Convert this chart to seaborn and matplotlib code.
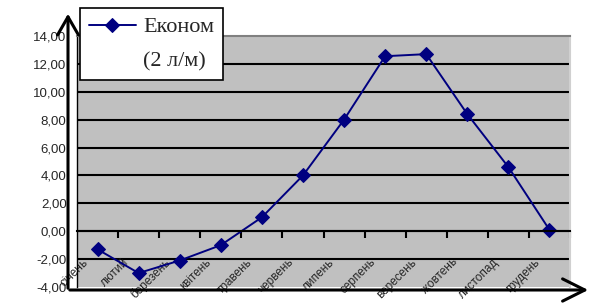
import matplotlib
matplotlib.use("Agg")
import matplotlib.pyplot as plt
import matplotlib.transforms as mtransforms
from matplotlib.lines import Line2D
from matplotlib.ticker import FixedLocator, FuncFormatter
import seaborn as sns
import pandas as pd

months = ["січень", "лютий", "березень", "квітень", "травень", "червень",
          "липень", "серпень", "вересень", "жовтень", "листопад", "грудень"]
values = [-1.3, -3.0, -2.1, -1.0, 1.0, 4.0, 8.0, 12.55, 12.7, 8.4, 4.6, 0.1]
legend_lines = ["Економ", "(2 л/м)"]
y_ticks = [-4, -2, 0, 2, 4, 6, 8, 10, 12, 14]

df = pd.DataFrame({"month": months, "value": values, "pos": range(len(months))})

sns.set_style("white")
plt.rcParams["font.family"] = ["Liberation Sans", "DejaVu Sans"]

fig = plt.figure(figsize=(5.94, 3.03), dpi=100)
ax = fig.add_axes([77 / 594, 1 - 287 / 303, (570 - 77) / 594, (287 - 36) / 303])
ax.set_facecolor("#C0C0C0")

sns.lineplot(data=df, x="pos", y="value", ax=ax, color="#000080", lw=1.4,
             marker="D", markersize=7, markeredgecolor="#000080", legend=False)
series_line = ax.get_lines()[0]

ax.set_xlim(-0.5, len(months) - 0.5)
ax.set_ylim(-4, 14)
ax.set_xlabel("")
ax.set_ylabel("")

for t in y_ticks[1:-1]:
    ax.axhline(t, color="black", lw=1.5, zorder=0.5)

ax.set_yticks(y_ticks)
ax.yaxis.set_major_formatter(FuncFormatter(lambda v, p: f"{v:.2f}".replace(".", ",")))
ax.tick_params(axis="y", length=0, pad=7.5, labelsize=9.5)

ax.spines["bottom"].set_position(("data", 0))
ax.spines["bottom"].set_color("black")
ax.spines["bottom"].set_linewidth(1.5)
ax.spines["left"].set_color("black")
ax.spines["left"].set_linewidth(1.0)
ax.spines["top"].set_color("#808080")
ax.spines["top"].set_linewidth(1.5)
ax.spines["right"].set_color("#D0D0D0")
ax.spines["right"].set_linewidth(1.5)

ax.set_xticks(range(len(months)))
ax.set_xticklabels(months, rotation=45, ha="right", va="top", fontsize=8.5)
ax.xaxis.set_minor_locator(FixedLocator([i + 0.5 for i in range(len(months))]))
ax.tick_params(axis="x", which="major", length=0, pad=18)
ax.tick_params(axis="x", which="minor", length=5, width=1.5, color="black", direction="out", bottom=True)
offset = mtransforms.ScaledTranslation(-7 / 100, 0, fig.dpi_scale_trans)
for lab in ax.get_xticklabels():
    lab.set_transform(lab.get_transform() + offset)

# axis arrows
fig.add_artist(matplotlib.patches.FancyArrowPatch((68 / 594, 1 - 291 / 303), (68 / 594, 1 - 11 / 303),
               transform=fig.transFigure, arrowstyle="->,head_length=13,head_width=7.5",
               mutation_scale=1, color="black", lw=2.2))
fig.add_artist(matplotlib.patches.FancyArrowPatch((67 / 594, 1 - 290 / 303), (591 / 594, 1 - 290 / 303),
               transform=fig.transFigure, arrowstyle="->,head_length=16,head_width=8",
               mutation_scale=1, color="black", lw=2.2))

blank = Line2D([], [], color="none")
leg = fig.legend([series_line, blank], legend_lines, loc="upper left",
                 bbox_to_anchor=(80 / 594, 1 - 8 / 303),
                 prop={"family": "Liberation Serif", "size": 16}, frameon=True,
                 fancybox=False, framealpha=1, handlelength=2.1, handletextpad=0.35,
                 borderpad=0.4, labelspacing=0.6, borderaxespad=0)
leg.get_frame().set_edgecolor("black")
leg.get_frame().set_linewidth(1.2)

fig.savefig("out.png", dpi=100)
